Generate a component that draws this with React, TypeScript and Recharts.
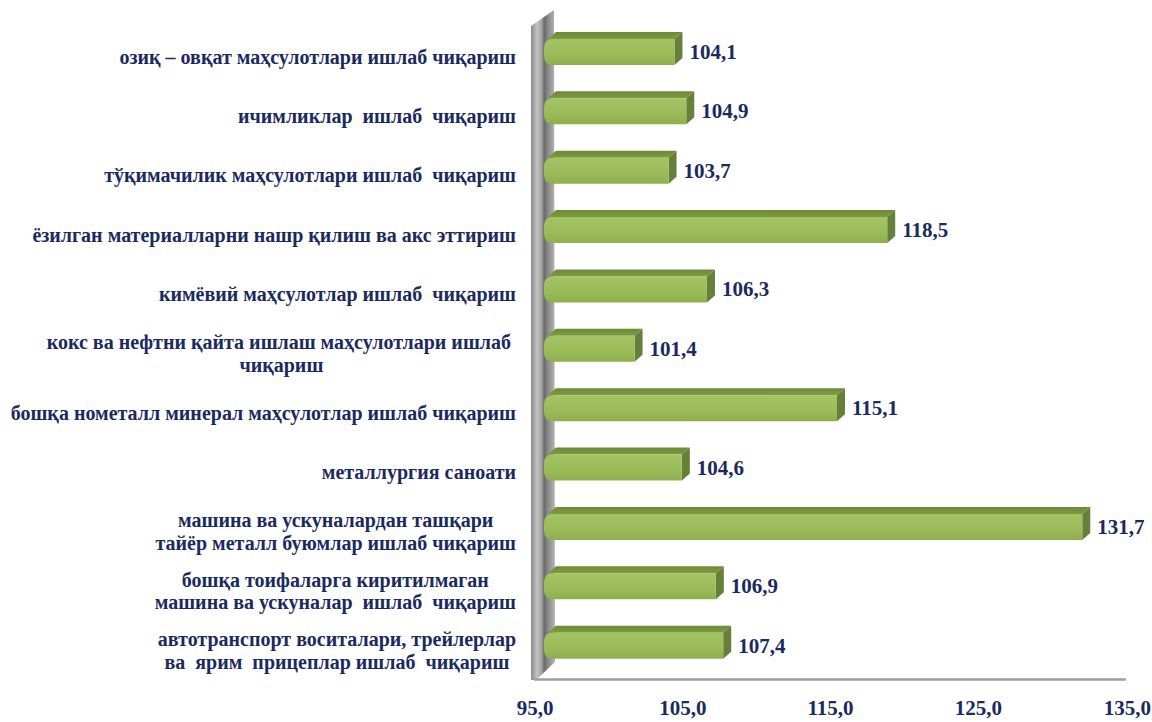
import React from "react";
import { BarChart, Bar, XAxis, YAxis, LabelList } from "recharts";

// категориялар (юқоридан пастга)
const categories = [
  "озиқ – овқат маҳсулотлари ишлаб чиқариш",
  "ичимликлар  ишлаб  чиқариш",
  "тўқимачилик маҳсулотлари ишлаб  чиқариш",
  "ёзилган материалларни нашр қилиш ва акс эттириш",
  "кимёвий маҳсулотлар ишлаб  чиқариш",
  "кокс ва нефтни қайта ишлаш маҳсулотлари ишлаб \nчиқариш",
  "бошқа нометалл минерал маҳсулотлар ишлаб чиқариш",
  "металлургия саноати",
  "машина ва ускуналардан ташқари\nтайёр металл буюмлар ишлаб чиқариш",
  "бошқа тоифаларга киритилмаган\nмашина ва ускуналар  ишлаб  чиқариш",
  "автотранспорт воситалари, трейлерлар\nва  ярим  прицеплар ишлаб  чиқариш",
];

const values = [104.1, 104.9, 103.7, 118.5, 106.3, 101.4, 115.1, 104.6, 131.7, 106.9, 107.4];

const xTicks = [95, 105, 115, 125, 135];

const data = categories.map((name, i) => ({ name, value: values[i] }));

const NAVY = "#1b2a5e";
const FONT = '"Liberation Serif", "Times New Roman", serif';
const W = 1152;
const H = 722;

const fmt = (v: number) => v.toFixed(1).replace(".", ",");

let ctx: CanvasRenderingContext2D | null = null;
function measure(text: string, font: string) {
  if (!ctx) ctx = document.createElement("canvas").getContext("2d");
  if (!ctx) return text.length * 10;
  ctx.font = font;
  return ctx.measureText(text).width;
}

function CategoryTick(props: any) {
  const { y, payload } = props;
  const lines = String(payload.value).split("\n");
  const fontSize = 20;
  const font = `bold ${fontSize}px "Liberation Serif"`;
  const maxW = Math.max(...lines.map((l) => measure(l, font)));
  const right = 516;
  const cx = right - maxW / 2;
  const lh = 22.5;
  const top = y + 8 - ((lines.length - 1) * lh) / 2;
  return (
    <text
      textAnchor="middle"
      fill={NAVY}
      fontFamily={FONT}
      fontWeight="bold"
      fontSize={fontSize}
      style={{ whiteSpace: "pre" }}
    >
      {lines.map((l, i) => (
        <tspan key={i} x={cx} y={top + i * lh} dominantBaseline="central">
          {l}
        </tspan>
      ))}
    </text>
  );
}

function ValueTick(props: any) {
  const { x, y, payload, index } = props;
  const last = index === xTicks.length - 1;
  return (
    <text
      x={last ? 1151 : x - 5}
      y={y + 35}
      textAnchor={last ? "end" : "middle"}
      fill={NAVY}
      fontFamily={FONT}
      fontWeight="bold"
      fontSize={21}
    >
      {fmt(Number(payload.value))}
    </text>
  );
}

const DX = 8;
const DY = 7;

function Bar3D(props: any) {
  const { x, y, width, height } = props;
  const x0 = x + 4;
  const x1 = x + width;
  const fy = y + DY;
  const fb = y + height;
  const r = 9;
  const front = `M${x0 + r},${fy} L${x1},${fy} L${x1},${fb} L${x0 + r},${fb} Q${x0},${fb} ${x0},${fb - r} L${x0},${fy + r} Q${x0},${fy} ${x0 + r},${fy} Z`;
  return (
    <g>
      <polygon
        points={`${x0 + 4},${fy} ${x1},${fy} ${x1 + DX},${y} ${x0 + 4 + DX},${y}`}
        fill="url(#topFace)"
      />
      <polygon
        points={`${x1},${fy} ${x1 + DX},${y} ${x1 + DX},${fb - DY} ${x1},${fb}`}
        fill="#66803a"
      />
      <path d={front} fill="url(#frontFace)" />
    </g>
  );
}

function ValueLabel(props: any) {
  const { x, y, width, height, value } = props;
  return (
    <text
      x={x + width + DX + 7}
      y={y + DY + (height - DY) / 2}
      dominantBaseline="central"
      fill={NAVY}
      fontFamily={FONT}
      fontWeight="bold"
      fontSize={21}
    >
      {fmt(Number(value))}
    </text>
  );
}

function Wall() {
  return (
    <svg width={W} height={H} style={{ position: "absolute", left: 0, top: 0 }}>
      <defs>
        <linearGradient id="wallGrad" x1="0" y1="0" x2="1" y2="0">
          <stop offset="0%" stopColor="#8a8a8a" />
          <stop offset="25%" stopColor="#c4c4c4" />
          <stop offset="45%" stopColor="#a0a0a0" />
          <stop offset="55%" stopColor="#6a6a6a" />
          <stop offset="70%" stopColor="#888888" />
          <stop offset="100%" stopColor="#b5b5b5" />
        </linearGradient>
      </defs>
      <polygon points="531,26 554,10 555,662 536,680 531,680" fill="url(#wallGrad)" />
      <line x1={534} y1={679.5} x2={1126} y2={679.5} stroke="#9e9e9e" strokeWidth={2.5} />
    </svg>
  );
}

export default function App() {
  return (
    <div style={{ position: "absolute", left: 0, top: 0, width: W, height: H, background: "#fff" }}>
      <Wall />
      <div style={{ position: "absolute", left: 0, top: 0 }}>
        <BarChart
          width={W}
          height={H}
          data={data}
          layout="vertical"
          margin={{ top: 19, right: 21, bottom: 0, left: 0 }}
          barSize={33}
        >
          <defs>
            <linearGradient id="frontFace" x1="0" y1="0" x2="0" y2="1">
              <stop offset="0%" stopColor="#a5c364" />
              <stop offset="60%" stopColor="#9bbb59" />
              <stop offset="100%" stopColor="#8fae4f" />
            </linearGradient>
            <linearGradient id="topFace" x1="0" y1="0" x2="0" y2="1">
              <stop offset="0%" stopColor="#6d8a35" />
              <stop offset="100%" stopColor="#7d9b41" />
            </linearGradient>
          </defs>
          <XAxis
            type="number"
            domain={[95, 135]}
            ticks={xTicks}
            height={50}
            axisLine={false}
            tickLine={false}
            tick={<ValueTick />}
            interval={0}
          />
          <YAxis
            type="category"
            dataKey="name"
            width={540}
            axisLine={false}
            tickLine={false}
            tick={<CategoryTick />}
            interval={0}
          />
          <Bar dataKey="value" shape={<Bar3D />} isAnimationActive={false}>
            <LabelList dataKey="value" content={<ValueLabel />} />
          </Bar>
        </BarChart>
      </div>
    </div>
  );
}
